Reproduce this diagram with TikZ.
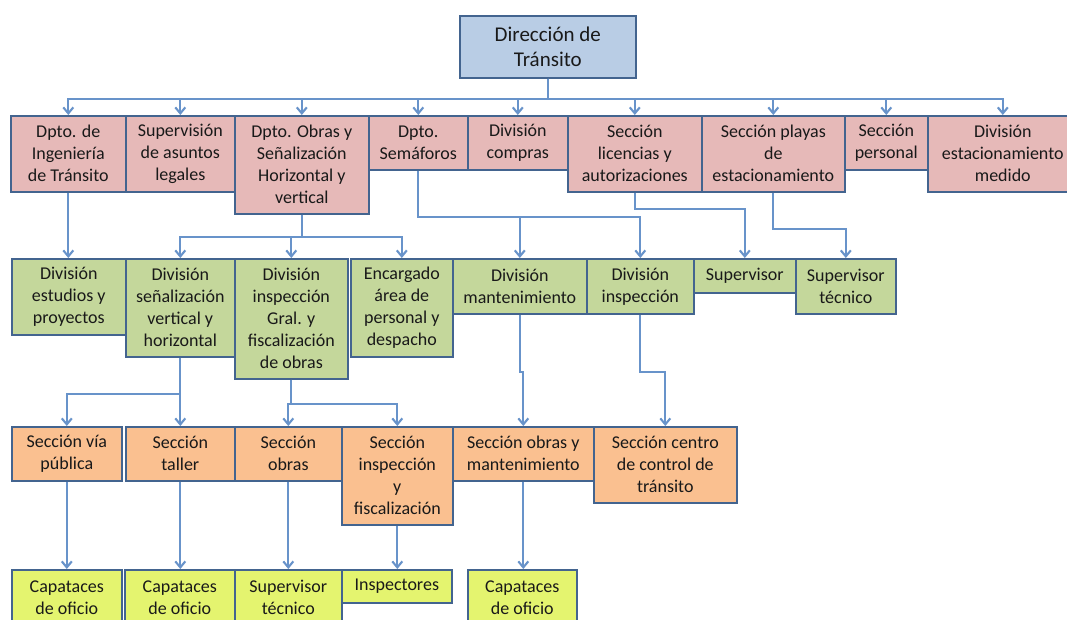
\documentclass[tikz,border=0pt]{standalone}
\usepackage{fontspec}
\setmainfont{Carlito}
\usetikzlibrary{arrows.meta}
\definecolor{frame}{HTML}{43648F}
\definecolor{wire}{HTML}{6893CA}
\definecolor{dirblue}{HTML}{B9CDE5}
\definecolor{deptpink}{HTML}{E6B9B8}
\definecolor{divgreen}{HTML}{C4D79B}
\definecolor{secorange}{HTML}{FAC090}
\definecolor{staffyellow}{HTML}{E4F46F}
\begin{document}
\begin{tikzpicture}[x=1pt,y=-1pt,
unit/.style={draw=frame,line width=1.6pt,anchor=north west,align=center,inner sep=1pt,text=black!90,font=\fontsize{18}{22}\selectfont},
dirbox/.style={unit,fill=dirblue,font=\fontsize{21}{25}\selectfont},
dept/.style={unit,fill=deptpink},
divi/.style={unit,fill=divgreen},
secc/.style={unit,fill=secorange},
staff/.style={unit,fill=staffyellow},
link/.style={draw=wire,line width=2.1pt,-{Straight Barb[length=6pt,width=10pt]}}]
\useasboundingbox (0,0) rectangle (1067,619);
\clip (0,0) rectangle (1067,619);
\fill[white] (0,0) rectangle (1067,619);
\node[dirbox,minimum width=176,minimum height=62] (dir) at (459,15) {Dirección de\\Tránsito};
\node[dept,minimum width=115,minimum height=76] (b1) at (10,115) {Dpto. de\\Ingeniería\\de Tránsito};
\node[dept,minimum width=109,minimum height=76] (b2) at (125,115) {Supervisión\\de asuntos\\legales};
\node[dept,minimum width=134,minimum height=98] (b3) at (234,115) {Dpto. Obras y\\Señalización\\Horizontal y\\vertical};
\node[dept,minimum width=99,minimum height=54] (b4) at (368,115) {Dpto.\\Semáforos};
\node[dept,minimum width=100,minimum height=54] (b5) at (467,115) {División\\compras};
\node[dept,minimum width=134,minimum height=76] (b6) at (567,115) {Sección\\licencias y\\autorizaciones};
\node[dept,minimum width=143,minimum height=76] (b7) at (701,115) {Sección playas\\de\\estacionamiento};
\node[dept,minimum width=83,minimum height=54] (b8) at (844,115) {Sección\\personal};
\node[dept,minimum width=150,minimum height=76] (b9) at (927,115) {División\\estacionamiento\\medido};
\node[divi,minimum width=114,minimum height=76] (c1) at (11,258) {División\\estudios y\\proyectos};
\node[divi,minimum width=109,minimum height=98] (c2) at (125,258) {División\\señalización\\vertical y\\horizontal};
\node[divi,minimum width=113,minimum height=120] (c3) at (234,258) {División\\inspección\\Gral. y\\fiscalización\\de obras};
\node[divi,minimum width=102,minimum height=98] (c4) at (350,258) {Encargado\\área de\\personal y\\despacho};
\node[divi,minimum width=134,minimum height=55] (c5) at (452,258) {División\\mantenimiento};
\node[divi,minimum width=107,minimum height=55] (c6) at (586,258) {División\\inspección};
\node[divi,minimum width=102,minimum height=34] (c7) at (693,258) {Supervisor};
\node[divi,minimum width=100,minimum height=55] (c8) at (795,258) {Supervisor\\técnico};
\node[secc,minimum width=110,minimum height=54] (d1) at (11,426) {Sección vía\\pública};
\node[secc,minimum width=109,minimum height=54] (d2) at (125,426) {Sección\\taller};
\node[secc,minimum width=107,minimum height=54] (d3) at (234,426) {Sección\\obras};
\node[secc,minimum width=111,minimum height=98] (d4) at (341,426) {Sección\\inspección\\y\\fiscalización};
\node[secc,minimum width=141,minimum height=54] (d5) at (452,426) {Sección obras y\\mantenimiento};
\node[secc,minimum width=143,minimum height=76] (d6) at (593,426) {Sección centro\\de control de\\tránsito};
\node[staff,minimum width=110,minimum height=56] (e1) at (11,569) {Capataces\\de oficio};
\node[staff,minimum width=110,minimum height=56] (e2) at (124,569) {Capataces\\de oficio};
\node[staff,minimum width=107,minimum height=56] (e3) at (234,569) {Supervisor\\técnico};
\node[staff,minimum width=110,minimum height=33] (e4) at (341,569) {Inspectores};
\node[staff,minimum width=109,minimum height=56] (e5) at (467,569) {Capataces\\de oficio};
\foreach \n in {1,...,9}
  \draw[link] (dir.south) -- ++(0,20) -| (b\n.north);
\draw[link] (b1.south) -- (b1.south |- c1.north);
\foreach \t in {c2,c3,c4}
  \draw[link] (b3.south) -- ++(0,22) -| (\t.north);
\foreach \t in {c5,c6}
  \draw[link] (b4.south) -- ++(0,46) -| (\t.north);
\draw[link] (b6.south) -- ++(0,16) -| (c7.north);
\draw[link] (b7.south) -- ++(0,36) -| (c8.north);
\draw[link] (c2.south) -- ++(0,36) -| (d1.north);
\draw[link] (c2.south) -- (c2.south |- d2.north);
\foreach \t in {d3,d4}
  \draw[link] (c3.south) -- ++(0,24) -| (\t.north);
\draw[link] (c5.south) -- ++(0,57) -| (d5.north);
\draw[link] (c6.south) -- ++(0,57) -| (d6.north);
\foreach \n in {1,...,5}
  \draw[link] (d\n.south) -- (d\n.south |- e\n.north);
\end{tikzpicture}
\end{document}
